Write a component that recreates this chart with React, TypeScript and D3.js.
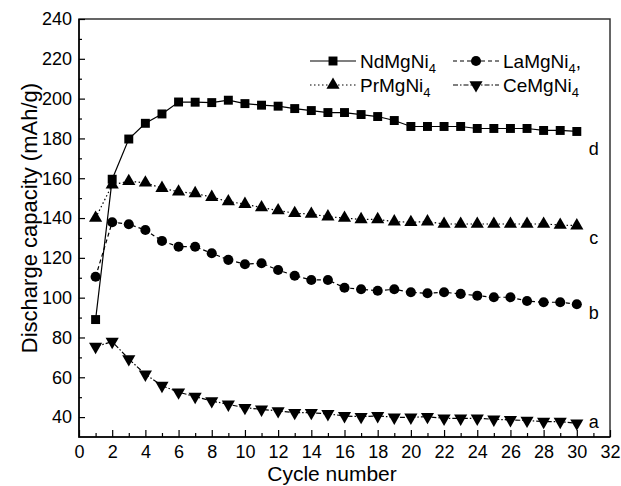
import React, { useEffect, useRef } from "react"
import * as d3 from "d3"

const cycles = [1, 2, 3, 4, 5, 6, 7, 8, 9, 10, 11, 12, 13, 14, 15, 16, 17, 18, 19, 20, 21, 22, 23, 24, 25, 26, 27, 28, 29, 30]
const ndVals = [89, 159.5, 179.7, 187.6, 192.3, 198.3, 198.2, 198, 199.2, 197.5, 196.7, 196.2, 195, 194, 193, 193, 192, 191, 189, 186, 186, 186, 186, 185, 185, 185, 185, 184, 184, 183.5]
const laVals = [110.5, 137.9, 136.9, 134, 128.5, 125.6, 125.6, 122.3, 119, 116.8, 117.3, 113.9, 111, 108.9, 108.9, 105, 104.2, 103.5, 104.2, 102.7, 102.2, 102.7, 101.9, 101, 100.2, 100.2, 98.3, 97.7, 97.7, 96.7]
const prVals = [140, 156.7, 158.5, 157.7, 155, 153.2, 152.4, 150.5, 148.3, 147, 145.3, 143.8, 142.4, 142, 140.7, 140, 139.3, 139.3, 138.2, 137.9, 138.2, 137, 137, 137, 137, 137, 137, 137, 136.5, 136.2]
const ceVals = [75.4, 77.9, 69.2, 61.5, 55.8, 52.5, 50.3, 48.1, 46.4, 44.7, 43.9, 43.1, 42.2, 42.2, 41.6, 40.6, 40.2, 40.6, 39.9, 39.9, 40.2, 39.4, 39.4, 39.4, 38.9, 38.6, 38.3, 37.7, 37.7, 36.9]

const xTicks = [0, 2, 4, 6, 8, 10, 12, 14, 16, 18, 20, 22, 24, 26, 28, 30, 32]
const xMinor = [1, 3, 5, 7, 9, 11, 13, 15, 17, 19, 21, 23, 25, 27, 29, 31]
const yTicks = [40, 60, 80, 100, 120, 140, 160, 180, 200, 220, 240]
const yMinor = [50, 70, 90, 110, 130, 150, 170, 190, 210, 230]

// series names + the a/b/c/d letters at the curve ends
const seriesNames = ["NdMgNi", "LaMgNi", "PrMgNi", "CeMgNi"]
const endLabels = ["d", "b", "c", "a"]
const endLabelVals = [175, 92.5, 130, 37.5]

const FONT = "'Liberation Sans', Arial, sans-serif"

const App = () => {
  const ref = useRef<SVGSVGElement>(null)

  useEffect(() => {
    const W = 621
    const H = 486
    const m = { top: 19, right: 11, bottom: 49, left: 79 }
    const x = d3.scaleLinear().domain([0, 32]).range([m.left, W - m.right])
    const y = d3.scaleLinear().domain([30, 240]).range([H - m.bottom, m.top])

    const svg = d3.select(ref.current)
    svg.selectAll("*").remove()

    const series = [
      { vals: ndVals, sym: d3.symbolSquare, size: 80, rot: 0, dash: null },
      { vals: laVals, sym: d3.symbolCircle, size: 80, rot: 0, dash: "4,3" },
      { vals: prVals, sym: d3.symbolTriangle, size: 75, rot: 0, dash: "1.5,2.5" },
      { vals: ceVals, sym: d3.symbolTriangle, size: 75, rot: 180, dash: "5,2,1.5,2" }
    ]

    const line = d3
      .line<number>()
      .x((d, i) => x(cycles[i]))
      .y(d => y(d))

    series.forEach(s => {
      svg
        .append("path")
        .attr("d", line(s.vals))
        .attr("fill", "none")
        .attr("stroke", "#000")
        .attr("stroke-width", 1.2)
        .attr("stroke-dasharray", s.dash)
      svg
        .append("g")
        .selectAll("path")
        .data(s.vals)
        .join("path")
        .attr("d", d3.symbol(s.sym, s.size)())
        .attr("transform", (d, i) => `translate(${x(cycles[i])},${y(d)}) rotate(${s.rot})`)
        .attr("fill", "#000")
    })

    // frame
    svg
      .append("rect")
      .attr("x", m.left)
      .attr("y", m.top)
      .attr("width", W - m.left - m.right)
      .attr("height", H - m.top - m.bottom)
      .attr("fill", "none")
      .attr("stroke", "#333")
      .attr("stroke-width", 1.5)
    svg
      .append("path")
      .attr("d", `M${m.left},${m.top}V${H - m.bottom}H${W - m.right}`)
      .attr("fill", "none")
      .attr("stroke", "#000")
      .attr("stroke-width", 1.5)

    svg
      .append("g")
      .attr("transform", `translate(0,${H - m.bottom})`)
      .call(d3.axisBottom(x).tickValues(xTicks).tickSize(-7).tickPadding(8).tickFormat(d3.format("d")))
    svg
      .append("g")
      .attr("transform", `translate(0,${H - m.bottom})`)
      .call(d3.axisBottom(x).tickValues(xMinor).tickSize(-4).tickFormat(() => ""))
    svg
      .append("g")
      .attr("transform", `translate(${m.left},0)`)
      .call(d3.axisLeft(y).tickValues(yTicks).tickSize(-6).tickPadding(7).tickFormat(d3.format("d")))
    svg
      .append("g")
      .attr("transform", `translate(${m.left},0)`)
      .call(d3.axisLeft(y).tickValues(yMinor).tickSize(-3).tickFormat(() => ""))

    svg.selectAll(".domain").remove()
    svg.selectAll(".tick line").attr("stroke", "#000").attr("stroke-width", 1.2)
    svg
      .selectAll(".tick text")
      .attr("font-family", FONT)
      .attr("font-size", 18)
      .attr("fill", "#000")

    // axis titles
    svg
      .append("text")
      .attr("x", 332)
      .attr("y", H - 5)
      .attr("text-anchor", "middle")
      .attr("font-family", FONT)
      .attr("font-size", 21)
      .text("Cycle number")
    svg
      .append("text")
      .attr("transform", `translate(29,${y(140)}) rotate(-90)`)
      .attr("text-anchor", "middle")
      .attr("dominant-baseline", "central")
      .attr("font-family", FONT)
      .attr("font-size", 22)
      .text("Discharge capacity (mAh/g)")

    // curve end labels
    endLabels.forEach((lab, i) => {
      svg
        .append("text")
        .attr("x", x(30) + 17)
        .attr("y", y(endLabelVals[i]))
        .attr("dy", "0.35em")
        .attr("text-anchor", "middle")
        .attr("font-family", FONT)
        .attr("font-size", 18)
        .text(lab)
    })

    // legend, two rows
    const legPos = [
      [310, 61],
      [453, 61],
      [310, 85],
      [453, 85]
    ]
    series.forEach((s, k) => {
      const [lx, ly] = legPos[k]
      const g = svg.append("g").attr("transform", `translate(${lx},${ly})`)
      g.append("line")
        .attr("x1", 0)
        .attr("x2", 46)
        .attr("stroke", "#000")
        .attr("stroke-width", 1.2)
        .attr("stroke-dasharray", s.dash)
      g.append("path")
        .attr("d", d3.symbol(s.sym, s.size)())
        .attr("transform", `translate(23,0) rotate(${s.rot})`)
      const t = g
        .append("text")
        .attr("x", 50)
        .attr("dy", "0.35em")
        .attr("font-family", FONT)
        .attr("font-size", 19)
      t.append("tspan").text(seriesNames[k])
      t.append("tspan").attr("font-size", 13).attr("dy", 5).text("4")
      if (k === 1) t.append("tspan").attr("dy", -5).text(",")
    })
  }, [])

  return (
    <svg
      ref={ref}
      width={621}
      height={486}
      style={{ position: "absolute", left: 0, top: 0, background: "#fff" }}
    />
  )
}

export default App
